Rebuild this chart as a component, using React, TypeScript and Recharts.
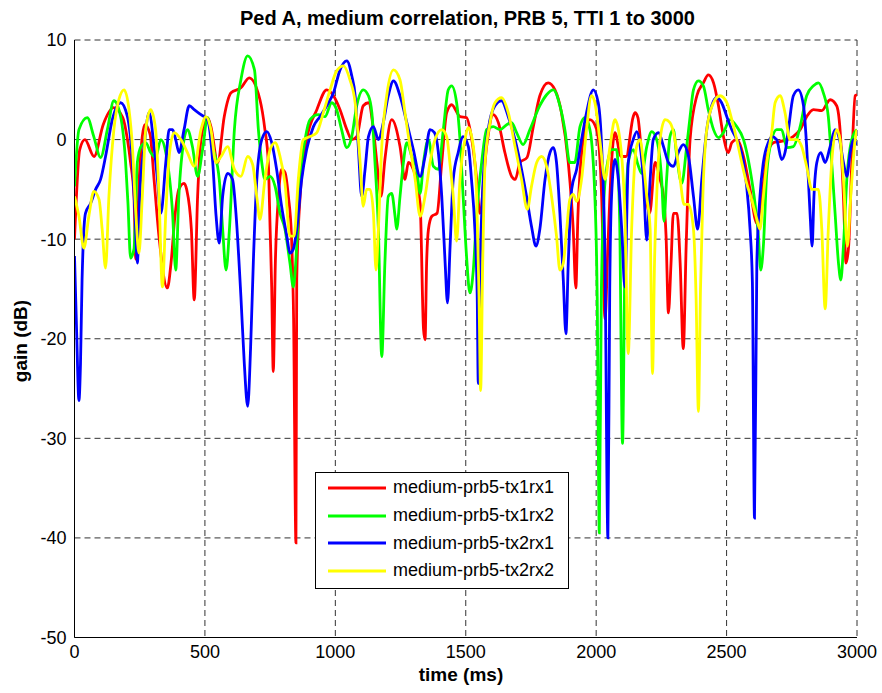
import { LineChart, Line, XAxis, YAxis, CartesianGrid } from 'recharts'

// sample times (ms) and gain (dB) per channel
const tRed = [0, 20, 40, 75, 110, 150, 185, 203, 215, 228, 235, 250, 270, 290, 305, 325, 356, 370, 385, 400, 420, 430, 448, 459, 472, 485, 510, 523, 549, 574, 600, 638, 670, 711, 730, 743, 750, 756, 762, 770, 782, 794, 807, 820, 832, 840, 849, 852, 865, 890, 929, 967, 993, 1018, 1044, 1063, 1082, 1107, 1127, 1146, 1160, 1175, 1190, 1216, 1248, 1267, 1280, 1299, 1325, 1338, 1344, 1350, 1357, 1370, 1390, 1408, 1427, 1446, 1478, 1503, 1520, 1542, 1554, 1580, 1605, 1625, 1650, 1676, 1690, 1708, 1735, 1759, 1784, 1816, 1842, 1867, 1893, 1912, 1922, 1930, 1951, 1976, 2002, 2021, 2034, 2045, 2059, 2072, 2095, 2115, 2142, 2149, 2160, 2175, 2188, 2205, 2226, 2245, 2258, 2268, 2277, 2287, 2296, 2310, 2322, 2334, 2345, 2360, 2386, 2411, 2430, 2450, 2469, 2488, 2507, 2520, 2539, 2565, 2590, 2616, 2635, 2654, 2680, 2705, 2730, 2755, 2782, 2807, 2833, 2865, 2897, 2922, 2935, 2948, 2958, 2968, 2980, 2993, 3000]
const vRed = [-10, -1, 0, -1.7, 1.5, 3.2, 2.2, 0, -2.3, -5.7, -12, -3, 1.5, 0.5, -4, -10, -14.9, -12.4, -7.7, -5, -4.4, -5, -9, -16.1, -5.7, 0, 2.2, 1.3, -2.3, 2.3, 4.7, 5.2, 6.2, 4, 1, -2.3, -9, -14.8, -23.3, -12.4, -5.7, -3, -3.3, -5.7, -9.8, -18, -40.5, -14, -5.7, 0, 3, 5, 4.4, 3, 1, 0, 0.3, 3.4, 3.7, 1, -2.5, -5.7, -2, 2, -0.7, -4, -2.3, -3, -6.4, -19, -20.1, -12.4, -9, -7.7, -7.4, -2.3, 2.7, 3.5, 2.3, 2.2, 0.5, -4, -7.4, -0.7, 2.5, 1.7, -1.3, -3.7, -4, -2.3, -1.8, 1.3, 4.4, 5.7, 5, 2.7, -2.3, -9, -14.9, -7.7, 0, 2, 1, -5.7, -18, -10.7, -2.3, 0.7, -1.7, -1.7, 2.3, 2.7, 2.2, -1.7, -5, -7.4, -2.3, -4, -5.7, -9.7, -17.4, -12.4, -7.4, -7.4, -12.4, -21, -10.7, 0, 4.4, 5.7, 6.5, 5.7, 3.4, 0.3, -1.3, -0.3, 0, -1.7, -5, -8.4, -5.7, -1.7, -0.3, -0.2, 0, 0.3, 1, 2.3, 3, 2.9, 4, 3.4, 1, -5.7, -12.4, -10.7, -2.3, 4.4, 4.5]

const tGreen = [0, 17, 49, 74, 100, 126, 151, 177, 196, 205, 215, 228, 241, 255, 273, 292, 311, 331, 350, 376, 388, 400, 420, 433, 452, 472, 491, 510, 530, 555, 568, 581, 594, 613, 638, 664, 690, 705, 718, 730, 750, 769, 788, 807, 826, 839, 852, 865, 884, 903, 935, 960, 986, 1005, 1024, 1044, 1063, 1082, 1107, 1127, 1140, 1152, 1165, 1178, 1190, 1203, 1216, 1229, 1235, 1248, 1261, 1274, 1293, 1312, 1325, 1338, 1357, 1376, 1395, 1414, 1433, 1446, 1465, 1478, 1490, 1503, 1516, 1529, 1542, 1561, 1580, 1605, 1631, 1657, 1676, 1695, 1720, 1746, 1784, 1810, 1836, 1861, 1880, 1899, 1918, 1938, 1957, 1976, 1995, 2004, 2012, 2020, 2035, 2059, 2078, 2090, 2101, 2110, 2123, 2142, 2160, 2175, 2194, 2213, 2232, 2251, 2260, 2270, 2283, 2296, 2309, 2328, 2347, 2360, 2373, 2392, 2411, 2430, 2450, 2469, 2488, 2513, 2539, 2565, 2590, 2609, 2622, 2631, 2641, 2654, 2673, 2692, 2711, 2731, 2756, 2782, 2807, 2833, 2852, 2871, 2890, 2903, 2916, 2929, 2938, 2948, 2961, 2980, 3000]
const vGreen = [-4.7, 1, 2.2, 0.3, -1.8, 1, 3.9, 2.3, -2.3, -6.4, -11.9, -11, -2.3, -0.7, -0.3, -1.3, -1.8, 0, -1.3, -7.4, -13.1, -5.7, 0, 1, -0.7, -3.7, -1, 2.2, -0.7, -4, -9, -13.1, -9, 1, 6, 8.4, 7, 1, -2.3, -4, -3.7, -4.7, -7.4, -9, -12.4, -14.8, -10.7, -4, 0, 2, 2.5, 2.3, 3.7, 3, 1, -0.8, 0.3, 3.4, 5, 4.4, 2.7, -2.3, -9, -21.8, -12.4, -5.7, -5.4, -7.7, -9, -5.7, -2.3, -0.3, -1.7, -3, -5.4, -2.3, 0, -2.7, -3, 1, 5, 5.4, 3.7, 0, -5.7, -11.7, -15.4, -13.1, -7.4, -2.3, 1, 1.3, 1, 1.5, 1.7, 0.7, -0.5, 1, 3.4, 4.5, 5, 3.4, 1, -2.3, -2.3, 1.3, 2.2, 1, -5.7, -15.8, -39.5, -15, -4, -1, -1, -8, -30.5, -12.4, -2.3, -1, -2.5, -3.4, -0.7, 0.8, 0, -4, -8.2, -4, 0.3, 1, -1.7, -4.4, -0.7, 2.3, 5, 5.9, 5.4, 3, 1, 0.2, 0.7, 2, 1.3, 0, -3, -6.4, -9.7, -13.1, -10.7, -3.4, 0, 1, 1, -0.8, -0.7, 1.3, 4.4, 5.4, 5.7, 4.7, 2.3, -2.3, -7.4, -12.4, -14.1, -10.7, -4, 0, 1]

const tBlue = [0, 8, 17, 23, 29, 42, 62, 81, 100, 119, 145, 177, 203, 222, 232, 241, 250, 267, 286, 305, 318, 331, 350, 363, 376, 388, 401, 420, 440, 459, 485, 510, 530, 542, 555, 568, 587, 606, 619, 638, 651, 664, 675, 686, 699, 718, 737, 756, 775, 794, 814, 826, 839, 852, 871, 890, 916, 941, 967, 993, 1018, 1044, 1063, 1076, 1088, 1101, 1114, 1127, 1146, 1165, 1184, 1203, 1223, 1248, 1274, 1299, 1325, 1344, 1363, 1380, 1395, 1408, 1421, 1430, 1440, 1452, 1471, 1490, 1510, 1522, 1535, 1544, 1548, 1556, 1567, 1586, 1612, 1637, 1663, 1689, 1714, 1733, 1752, 1769, 1784, 1804, 1823, 1836, 1848, 1861, 1874, 1884, 1893, 1906, 1925, 1944, 1963, 1989, 2008, 2021, 2034, 2045, 2052, 2059, 2072, 2085, 2098, 2110, 2123, 2142, 2156, 2168, 2181, 2194, 2207, 2219, 2239, 2258, 2277, 2296, 2315, 2334, 2354, 2373, 2389, 2405, 2424, 2443, 2462, 2481, 2501, 2520, 2539, 2565, 2577, 2590, 2599, 2607, 2616, 2628, 2641, 2660, 2673, 2692, 2711, 2724, 2737, 2756, 2775, 2795, 2807, 2820, 2828, 2835, 2846, 2861, 2878, 2897, 2916, 2933, 2948, 2961, 2974, 2986, 3000]
const vBlue = [-11.7, -19.1, -26.2, -22.5, -14.1, -7.4, -6.4, -5, -4, -1.7, 2, 3.7, 2.3, -2.3, -7.4, -12.4, -5.7, -0.7, 2.7, -0.7, -4, -7.4, -2.3, 1, 1, 0, -1.3, 1, 3.4, 3, 2.5, 2, -2.3, -7.4, -10.4, -5.7, -3.4, -4, -7.4, -15.8, -22.5, -26.8, -21, -12, -4, 0, 0.8, -0.3, -3, -6.7, -9.7, -11.4, -11, -9, -4, -1, 1.3, 2.3, 3.4, 4.7, 7, 7.9, 6.4, 4.4, -0.7, -5.7, -3, 0.3, 1.3, 0, 1.7, 4.4, 5.9, 4.4, 1.7, -1, -3.7, -1.7, 1, 0.7, -1.3, -5.7, -12.4, -16.4, -10.7, -4, -1.3, 0.3, -0.7, -4, -9, -15.8, -24.5, -12, -4, 1, 3.4, 3.9, 2.3, 0, -3, -5.7, -8.7, -10.7, -9, -4, -1.3, -0.8, -2.3, -7.4, -14.1, -19.5, -12.4, -5, -3, 0, 2.7, 5, 3.7, -0.7, -12.4, -40, -15, -5.7, -2, -4, -9, -14.8, -2.3, 0, 0.8, -0.5, -4, -10.1, -4, 0, 0.7, -0.7, -2.3, -2.7, -1.3, -0.5, -1.7, -5.7, -9, -4, 1, 3.4, 4.2, 3.7, 2.3, 1, 0, -2.3, -4.7, -9, -14.4, -38, -12.4, -5.7, -2.3, -0.3, 0.3, 0, -2, -1.3, 1, 4.4, 5, 3.4, -0.7, -7.4, -10.7, -5.7, -2.3, -1.3, -2.3, -0.7, 1, 0, -2.3, -3.7, -1.3, 0, -0.5]

const tYellow = [0, 17, 36, 55, 74, 94, 106, 119, 132, 151, 170, 190, 209, 222, 235, 247, 260, 273, 292, 311, 324, 337, 350, 363, 382, 408, 433, 459, 485, 504, 523, 542, 562, 587, 613, 638, 664, 683, 700, 711, 730, 750, 769, 788, 807, 826, 842, 858, 877, 903, 929, 954, 980, 1005, 1031, 1056, 1076, 1095, 1107, 1120, 1133, 1146, 1156, 1165, 1178, 1197, 1223, 1248, 1267, 1286, 1306, 1325, 1344, 1363, 1382, 1408, 1427, 1439, 1452, 1465, 1478, 1497, 1510, 1529, 1542, 1551, 1557, 1565, 1574, 1593, 1612, 1637, 1663, 1689, 1714, 1736, 1752, 1772, 1791, 1810, 1829, 1848, 1861, 1874, 1887, 1899, 1912, 1925, 1944, 1963, 1982, 1995, 2014, 2034, 2053, 2072, 2091, 2110, 2123, 2136, 2155, 2168, 2181, 2194, 2207, 2216, 2224, 2232, 2245, 2264, 2283, 2302, 2322, 2337, 2354, 2373, 2383, 2392, 2400, 2409, 2424, 2450, 2475, 2501, 2520, 2539, 2558, 2577, 2596, 2616, 2628, 2641, 2654, 2673, 2686, 2705, 2724, 2743, 2769, 2788, 2807, 2827, 2852, 2865, 2878, 2890, 2903, 2922, 2935, 2948, 2963, 2976, 2993, 3000]
const vYellow = [-5.7, -7.7, -10.9, -7.7, -5.2, -6, -9, -12.9, -5.7, 1, 4, 5, 3, -0.7, -7.4, -11.4, -5.7, 1, 3, 1, -5.7, -14.8, -7.4, -1.7, 0.7, 0, -1.3, -2.7, 1, 2.3, 1, -2.3, -1.7, -0.7, -3, -3.7, -1.7, -2.5, -6, -8, -4, -1, -0.3, -1.7, -4.4, -9.7, -9.7, -4, 0, 0.3, 0.7, 2.7, 5, 6.9, 7.4, 6, 3.7, -2.3, -6.7, -5, -5, -7.4, -13.1, -9, -0.7, 4.4, 7, 6, 2.7, -0.7, -4, -7.7, -5.7, -2.3, 0, 1, 0.3, -2.3, -5.7, -10.2, -4, 0, 1.2, -0.7, -5.7, -15.8, -25.2, -12.4, -2.3, 1.7, 3.7, 4.2, 2.7, -0.7, -4, -7, -4.7, -2.3, -1.7, -2.7, -5.7, -9.7, -13.1, -12.4, -9, -6, -5.5, -6.2, -4, 1, 4.4, 3.7, 0, -4, -0.7, 2, 0, -7.4, -21.5, -9, -0.7, 0, -2.3, -5.7, -9, -23.5, -12, -5.7, 0, 2, 1.7, 0, -4, -6.5, -6.5, -9, -15.8, -27.3, -15, -5.7, 1, 3.7, 4.4, 3.7, 2, 0, -2.3, -4.4, -6, -8, -9, -5.7, -2.3, 0.7, 3.7, 4.4, 2.7, 0, 0, -0.7, -2.7, -5, -5, -9, -17, -9, -2.3, 1, 0, -4, -10.7, -5.7, 0, 1]

const xTicks = [0, 500, 1000, 1500, 2000, 2500, 3000]
const yTicks = [-50, -40, -30, -20, -10, 0, 10]

const series = [
  { name: 'medium-prb5-tx1rx1', color: '#ff0000', t: tRed, v: vRed },
  { name: 'medium-prb5-tx1rx2', color: '#00ff00', t: tGreen, v: vGreen },
  { name: 'medium-prb5-tx2rx1', color: '#0000ff', t: tBlue, v: vBlue },
  { name: 'medium-prb5-tx2rx2', color: '#ffff00', t: tYellow, v: vYellow },
]

const font = '"Liberation Sans", Arial, Helvetica, sans-serif'

// MATLAB-style legend box sitting inside the axes
function LegendBox() {
  return (
    <div
      style={{
        position: 'absolute',
        left: 315,
        top: 472,
        width: 252,
        height: 114,
        boxSizing: 'content-box',
        border: '1px solid #000',
        background: '#fff',
        fontFamily: font,
        fontSize: 18,
        color: '#000',
        paddingTop: 1,
      }}
    >
      {series.map((s) => (
        <div key={s.name} style={{ display: 'flex', alignItems: 'center', height: 27.7 }}>
          <svg width={77} height={10} style={{ flex: 'none' }}>
            <line x1={12} y1={5} x2={70} y2={5} stroke={s.color} strokeWidth={3} />
          </svg>
          <span style={{ whiteSpace: 'nowrap' }}>{s.name}</span>
        </div>
      ))}
    </div>
  )
}

export default function App() {
  return (
    <div style={{ position: 'fixed', left: 0, top: 0, width: 882, height: 693, background: '#fff' }}>
      <LineChart width={882} height={693} margin={{ top: 40, right: 25, bottom: 0, left: 0 }}>
        <CartesianGrid stroke="#333" strokeDasharray="6 4" horizontal vertical />
        <XAxis
          type="number"
          dataKey="t"
          domain={[0, 3000]}
          ticks={xTicks}
          height={55.5}
          tick={{ fill: '#000', fontSize: 18, fontFamily: font }}
          tickLine={false}
          axisLine={{ stroke: '#000' }}
          allowDataOverflow
        />
        <YAxis
          type="number"
          domain={[-50, 10]}
          ticks={yTicks}
          width={74.5}
          tick={{ fill: '#000', fontSize: 18, fontFamily: font }}
          tickLine={false}
          axisLine={{ stroke: '#000' }}
          allowDataOverflow
        />
        {series.map((s) => (
          <Line
            key={s.name}
            data={s.t.map((t, i) => ({ t, v: s.v[i] }))}
            dataKey="v"
            name={s.name}
            type="monotone"
            stroke={s.color}
            strokeWidth={2.8}
            dot={false}
            isAnimationActive={false}
          />
        ))}
      </LineChart>
      <div
        style={{
          position: 'absolute',
          left: 240,
          width: 452,
          top: 7,
          textAlign: 'center',
          fontFamily: font,
          fontWeight: 'bold',
          fontSize: 20,
          whiteSpace: 'nowrap',
        }}
      >
        Ped A, medium correlation, PRB 5, TTI 1 to 3000
      </div>
      <div
        style={{
          position: 'absolute',
          left: 361,
          width: 200,
          top: 664,
          textAlign: 'center',
          fontFamily: font,
          fontWeight: 'bold',
          fontSize: 19,
        }}
      >
        time (ms)
      </div>
      <div
        style={{
          position: 'absolute',
          left: 21,
          top: 341,
          transform: 'translate(-50%, -50%) rotate(-90deg)',
          fontFamily: font,
          fontWeight: 'bold',
          fontSize: 19,
          whiteSpace: 'nowrap',
        }}
      >
        gain (dB)
      </div>
      <LegendBox />
    </div>
  )
}
